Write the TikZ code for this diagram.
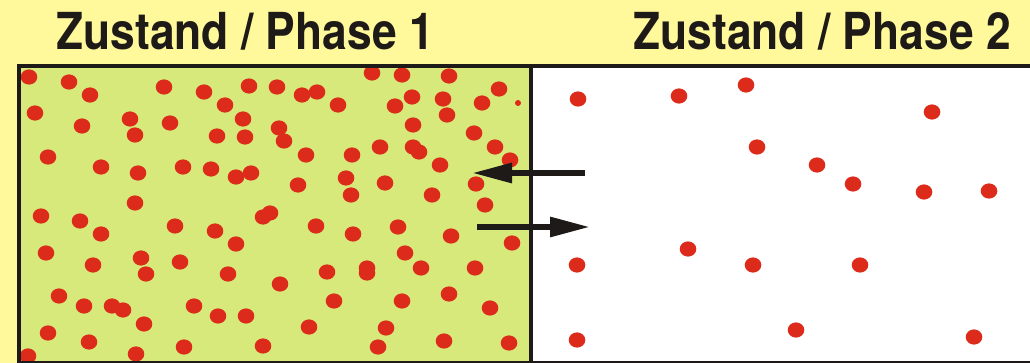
\documentclass[tikz,border=0pt]{standalone}
\usepackage{fontspec}
\usetikzlibrary{arrows.meta}
\newfontfamily\titelfont[FakeStretch=0.87]{TeX Gyre Heros}
\definecolor{hgelb}{HTML}{FFF99C}
\definecolor{hgruen}{HTML}{D7E97A}
\definecolor{trot}{HTML}{DC2A1B}
\definecolor{rand}{HTML}{1E1A17}
\tikzset{
  teilchen/.style={fill=trot},
  wand/.style={draw=rand, line width=4.5pt},
  pfeil/.style={draw=rand, line width=6pt, -{Triangle[length=40pt,width=19pt]}},
  titel/.style={anchor=base west, inner sep=0pt, text=rand,
    font=\titelfont\bfseries\fontsize{51}{55}\selectfont}
}

\begin{document}
\begin{tikzpicture}[x=1pt,y=-1pt]
	\useasboundingbox (0,0) rectangle (1030,363);
	\clip (0,0) rectangle (1030,363);
	\fill[hgelb] (0,0) rectangle (1030,363);
	\fill[hgruen] (19,66) rectangle (531,363);
	\fill[white] (531,66) rectangle (1034,363);
	% Phase 1
	\foreach \x/\y in {29/77, 69/82, 90/95, 164/87, 204/92, 249/86, 277/87, 302/95, 317/92, 338/105,
		372/73, 402/75, 449/76, 412/97, 443/99, 499/89, 482/103,
		35/113, 82/126, 130/119, 135/135, 170/123, 225/105, 243/119, 217/136, 245/137,
		279/128, 284/141, 395/106, 447/115, 413/125, 474/133,
		48/157, 101/167, 138/173, 183/167, 211/169, 236/177, 251/173, 306/155, 352/155,
		380/147, 413/147, 419/152, 440/165, 495/147, 510/160,
		298/185, 346/178, 351/195, 385/183, 432/195, 476/184, 485/205, 135/203,
		41/216, 80/221, 263/217, 270/213, 101/234, 175/226, 215/231, 236/244, 316/226,
		353/234, 398/227, 451/236, 512/243,
		46/253, 93/265, 141/258, 146/274, 180/262, 228/274, 280/284, 405/253, 327/272,
		367/268, 367/273, 421/268, 475/268,
		59/296, 84/306, 112/306, 123/310, 144/324, 194/306, 218/316, 246/316,
		334/301, 402/301, 449/294, 490/308,
		48/333, 89/342, 136/354, 184/347, 263/346, 28/356, 309/327, 386/328, 378/347,
		444/341, 509/343}
		\fill[teilchen] (\x,\y) ellipse [x radius=8.3pt, y radius=7.6pt];
	\fill[teilchen] (518,103) circle [radius=3pt];
	% Phase 2
	\foreach \x/\y in {578/99, 679/96, 746/85, 932/112, 757/147, 817/165, 853/184, 924/192,
		989/191, 688/249, 577/265, 753/265, 860/265, 796/330, 577/340, 974/337}
		\fill[teilchen] (\x,\y) ellipse [x radius=8.3pt, y radius=7.6pt];
	\draw[wand] (19,66) rectangle (1034,363);
	\draw[wand] (531,66) -- (531,363);
	\node[titel] (titel1) at (56,49.3) {Zustand / Phase 1};
	\node[titel] (titel2) at (633,49.3) {Zustand / Phase 2};
	\coordinate (rueck-a) at (585,173);
	\coordinate (rueck-b) at (472,173);
	\coordinate (hin-a) at (477,227);
	\coordinate (hin-b) at (590,227);
	\draw[pfeil] (rueck-a) -- (rueck-b);
	\draw[pfeil] (hin-a) -- (hin-b);
\end{tikzpicture}
\end{document}
